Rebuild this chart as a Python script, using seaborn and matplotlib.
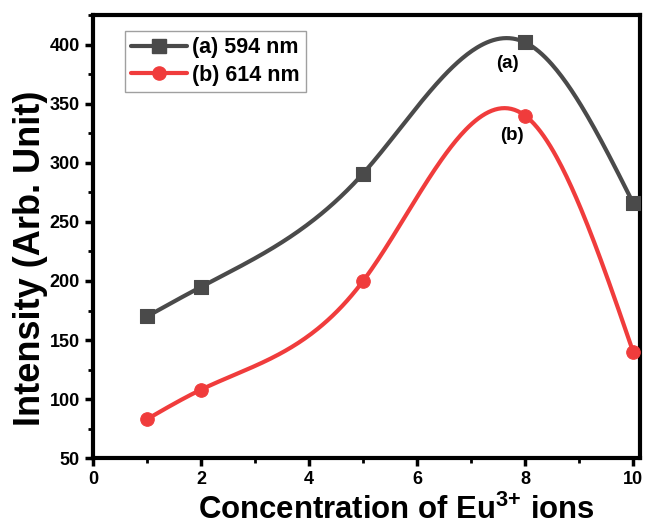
import numpy as np
import pandas as pd
import matplotlib
matplotlib.use("Agg")
import matplotlib.pyplot as plt
import seaborn as sns
from matplotlib.ticker import MultipleLocator

conc = [1, 2, 5, 8, 10]
int_594 = [170, 195, 291, 402, 266]
int_614 = [83, 108, 200, 340, 140]
labels = ["(a) 594 nm", "(b) 614 nm"]
colors = ["#4a4a4a", "#f03c3c"]


def natural_spline(x, y, n=300):
    x = np.asarray(x, float); y = np.asarray(y, float)
    m = len(x); h = np.diff(x)
    A = np.zeros((m, m)); b = np.zeros(m)
    A[0, 0] = A[-1, -1] = 1
    for i in range(1, m - 1):
        A[i, i - 1] = h[i - 1]; A[i, i] = 2 * (h[i - 1] + h[i]); A[i, i + 1] = h[i]
        b[i] = 6 * ((y[i + 1] - y[i]) / h[i] - (y[i] - y[i - 1]) / h[i - 1])
    M = np.linalg.solve(A, b)
    xs = np.linspace(x[0], x[-1], n)
    idx = np.clip(np.searchsorted(x, xs) - 1, 0, m - 2)
    x0, x1 = x[idx], x[idx + 1]; hh = x1 - x0
    ys = (M[idx] * (x1 - xs) ** 3 / (6 * hh) + M[idx + 1] * (xs - x0) ** 3 / (6 * hh)
          + (y[idx] / hh - M[idx] * hh / 6) * (x1 - xs)
          + (y[idx + 1] / hh - M[idx + 1] * hh / 6) * (xs - x0))
    return xs, ys


sns.set_style("ticks", {"axes.edgecolor": "black", "text.color": "black",
                        "axes.labelcolor": "black", "xtick.color": "black",
                        "ytick.color": "black"})
plt.rcParams["font.family"] = ["Liberation Sans", "DejaVu Sans"]
plt.rcParams["font.weight"] = "bold"
plt.rcParams["mathtext.fontset"] = "custom"
plt.rcParams["mathtext.rm"] = "Liberation Sans:bold"
plt.rcParams["mathtext.bf"] = "Liberation Sans:bold"
plt.rcParams["mathtext.default"] = "bf"

fig = plt.figure(figsize=(6.46, 5.26), dpi=100)
ax = fig.add_axes([0.144, 0.129, 0.847, 0.842])

for ys, lab, col, mk in zip([int_594, int_614], labels, colors, ["s", "o"]):
    xs, yy = natural_spline(conc, ys)
    sns.lineplot(x=xs, y=yy, ax=ax, color=col, lw=3, label=None)
    sns.scatterplot(x=conc, y=ys, ax=ax, color=col, marker=mk, s=95, edgecolor=col, zorder=5)
    ax.plot([], [], color=col, lw=3, marker=mk, ms=9.5, label=lab)

ax.text(7.67, 384, "(a)", ha="center", va="center", fontsize=13.5, fontweight="bold")
ax.text(7.76, 323, "(b)", ha="center", va="center", fontsize=13.5, fontweight="bold")

ax.set_xlim(0, 10.13)
ax.set_ylim(50, 425)
ax.xaxis.set_major_locator(MultipleLocator(2))
ax.xaxis.set_minor_locator(MultipleLocator(1))
ax.yaxis.set_major_locator(MultipleLocator(50))
ax.yaxis.set_minor_locator(MultipleLocator(25))
ax.tick_params(which="major", direction="out", length=6, width=2.5, labelsize=13, colors="black")
ax.tick_params(which="minor", direction="out", length=3.5, width=2, colors="black")
for lbl in ax.get_xticklabels() + ax.get_yticklabels():
    lbl.set_fontweight("bold")
for s in ax.spines.values():
    s.set_linewidth(3)
    s.set_color("black")
    s.set_visible(True)

ax.set_xlabel("Concentration of Eu$^{3{+}}$ ions", fontsize=22.4, fontweight="bold")
ax.set_ylabel("Intensity (Arb. Unit)", fontsize=26, fontweight="bold")
ax.xaxis.set_label_coords(0.554, -0.082)
ax.yaxis.set_label_coords(-0.083, 0.451)

leg = ax.legend(loc="upper left", bbox_to_anchor=(0.0585, 0.965), fancybox=False,
                prop={"weight": "bold", "size": 15.5}, handlelength=2.6,
                borderpad=0.3, labelspacing=0.3, handletextpad=0.2, borderaxespad=0)
leg.get_frame().set_edgecolor("#888888")
leg.get_frame().set_linewidth(1)

fig.savefig("out.png", dpi=100)
